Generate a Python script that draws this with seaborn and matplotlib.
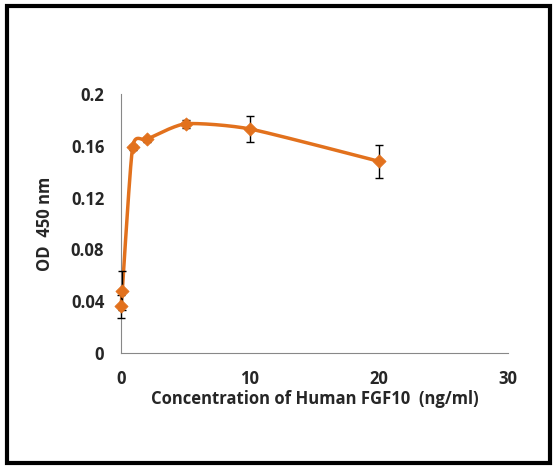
import numpy as np
import matplotlib.pyplot as plt
import seaborn as sns
from matplotlib.patches import Rectangle

# data
conc = [0, 0.1, 0.9, 2, 5, 10, 20]
od = [0.036, 0.048, 0.159, 0.165, 0.177, 0.173, 0.148]
err = [0.009, 0.015, 0.002, 0.002, 0.003, 0.010, 0.013]

sns.set_style("white")
plt.rcParams['font.family'] = ['Open Sans', 'DejaVu Sans']

def smooth(x, y, n=40, c=0.3):
    # cardinal spline through the points (Excel-like smoothed line)
    p = np.column_stack([x, y]).astype(float)
    p = np.vstack([p[0], p, p[-1]])
    out = []
    for i in range(1, len(p) - 2):
        p0, p1, p2, p3 = p[i-1], p[i], p[i+1], p[i+2]
        m1, m2 = c * (p2 - p0), c * (p3 - p1)
        t = np.linspace(0, 1, n)[:, None]
        h00 = 2*t**3 - 3*t**2 + 1
        h10 = t**3 - 2*t**2 + t
        h01 = -2*t**3 + 3*t**2
        h11 = t**3 - t**2
        out.append(h00*p1 + h10*m1 + h01*p2 + h11*m2)
    s = np.vstack(out)
    return s[:, 0], s[:, 1]

fig = plt.figure(figsize=(5.57, 4.69), dpi=100)
fig.patches.append(Rectangle((0.012, 0.012), 0.976, 0.976, transform=fig.transFigure,
                             fill=False, edgecolor='black', linewidth=3))
ax = fig.add_axes([121/557, 1-353/469, 387/557, 259/469])

color = '#E2711D'
sx, sy = smooth(conc, od)
ax.plot(sx, sy, color=color, linewidth=2.5, zorder=2, clip_on=False)
ax.errorbar(conc, od, yerr=err, fmt='none', ecolor='black', capsize=3, elinewidth=1,
            zorder=3, clip_on=False)
sns.scatterplot(x=conc, y=od, marker='D', s=45, color=color, edgecolor=color, ax=ax,
                zorder=4, clip_on=False)

ax.set_xlim(0, 30)
ax.set_ylim(0, 0.2)
ax.set_xticks([0, 10, 20, 30])
ax.set_yticks([0, 0.04, 0.08, 0.12, 0.16, 0.2])
ax.set_yticklabels(['0', '0.04', '0.08', '0.12', '0.16', '0.2'])
for s in ['top', 'right']:
    ax.spines[s].set_visible(False)
for s in ['left', 'bottom']:
    ax.spines[s].set_color('#888888')
ax.tick_params(axis='both', direction='out', length=4, color='#888888', labelsize=12, pad=8)
for lab in ax.get_xticklabels() + ax.get_yticklabels():
    lab.set_fontweight('bold')
ax.set_xlabel('Concentration of Human FGF10  (ng/ml)', fontsize=12, fontweight='bold', labelpad=2)
ax.set_ylabel('OD  450 nm', fontsize=12, fontweight='bold', labelpad=12)

fig.savefig('out.png', dpi=100)
